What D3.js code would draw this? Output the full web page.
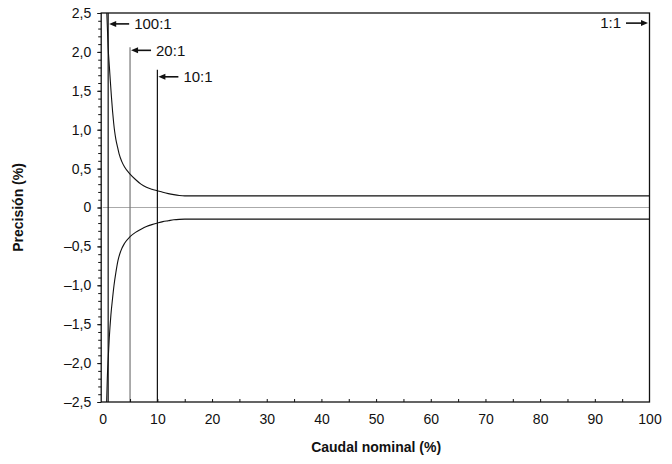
<!DOCTYPE html>
<html><head><meta charset="utf-8">
<script src="https://cdn.jsdelivr.net/npm/d3@7"></script>
<style>body{margin:0;background:#fff}svg{display:block}text{font-family:"Liberation Sans",Arial,sans-serif;fill:#111}</style>
</head><body><div id="c"></div>
<script>
const upperX = [0.75,1,1.2,1.4,1.6,1.8,2,2.2,2.4,2.7,3,3.5,4,5,6,7,8,9,10,11,12,13,14,15,100];
const upperY = [2.5,2.05,1.83,1.62,1.42,1.24,1.09,0.97,0.88,0.78,0.69,0.59,0.52,0.43,0.36,0.30,0.26,0.235,0.215,0.195,0.178,0.165,0.155,0.15,0.15];
const lowerX = [0.72,0.84,1,1.2,1.5,1.8,2.07,2.4,2.8,3.3,4,5,6,7,8,9,10,11,12,13,14,15,100];
const lowerY = [-2.5,-2.2,-1.95,-1.68,-1.38,-1.17,-1.0,-0.84,-0.68,-0.56,-0.46,-0.375,-0.32,-0.28,-0.245,-0.22,-0.2,-0.182,-0.17,-0.158,-0.152,-0.15,-0.15];
const ratioLabels = ["100:1","20:1","10:1"];
const ratioX = [1,5,10];
const ratioTop = [2.5,2.06,1.77];
const ratioArrowY = [2.36,2.02,1.68];
const oneLabel = "1:1";
const oneArrowY = 2.37;
const xTicks = [0,10,20,30,40,50,60,70,80,90,100];
const yTicks = [-2.5,-2,-1.5,-1,-0.5,0,0.5,1,1.5,2,2.5];
const xTitle = "Caudal nominal (%)";
const yTitle = "Precisión (%)";

const W=672,H=464;
const x = d3.scaleLinear().domain([0,100]).range([102.7,649.5]);
const y = d3.scaleLinear().domain([-2.5,2.5]).range([402,13]);
const svg = d3.select("#c").append("svg").attr("width",W).attr("height",H);
const fmt = v => v===0 ? "0" : (v<0?"–":"") + Math.abs(v).toFixed(1).replace(".",",");

// zero line
svg.append("line").attr("x1",x(0)).attr("x2",x(100)).attr("y1",y(0)).attr("y2",y(0)).attr("stroke","#aaa").attr("stroke-width",1);

// vertical ratio lines
const ratioColors = ["#111","#777","#111"];
ratioX.forEach((rx,i)=>{
  svg.append("line").attr("x1",x(rx)).attr("x2",x(rx)).attr("y1",y(ratioTop[i])).attr("y2",y(-2.5)).attr("stroke",ratioColors[i]).attr("stroke-width",1.2);
});

// curves
const line = d3.line().x(d=>x(d[0])).y(d=>y(d[1])).curve(d3.curveMonotoneX);
svg.append("path").attr("d",line(upperX.map((v,i)=>[v,upperY[i]]))).attr("fill","none").attr("stroke","#111").attr("stroke-width",1.1);
svg.append("path").attr("d",line(lowerX.map((v,i)=>[v,lowerY[i]]))).attr("fill","none").attr("stroke","#111").attr("stroke-width",1.1);

// frame
svg.append("rect").attr("x",x(0)-1.5).attr("y",y(2.5)).attr("width",x(100)-x(0)+1.5).attr("height",y(-2.5)-y(2.5)).attr("fill","none").attr("stroke","#111").attr("stroke-width",1.3);

// axes
const yAxis = d3.axisLeft(y).tickValues(yTicks).tickFormat(fmt).tickSize(4).tickPadding(6);
const ya = svg.append("g").attr("transform",`translate(${x(0)-1.5},0)`).call(yAxis);
ya.select(".domain").remove();
ya.selectAll("text").style("font-size","14px").attr("fill","#111");
const yMinor = d3.axisLeft(y).tickValues(d3.range(-25,26).map(v=>v/10)).tickFormat("").tickSize(3);
const ym = svg.append("g").attr("transform",`translate(${x(0)-1.5},0)`).call(yMinor);
ym.select(".domain").remove();

const xAxis = d3.axisBottom(x).tickValues(xTicks).tickFormat(d=>d).tickSize(0).tickPadding(12);
const xa = svg.append("g").attr("transform",`translate(0,${y(-2.5)})`).call(xAxis);
xa.select(".domain").remove();
xa.selectAll("text").style("font-size","14px").attr("fill","#111");
const xIn = d3.axisTop(x).tickValues(d3.range(5,100,5)).tickFormat("").tickSizeOuter(0).tickSize(3);
const xi = svg.append("g").attr("transform",`translate(0,${y(-2.5)})`).call(xIn);
xi.select(".domain").remove();
svg.selectAll(".tick line").attr("stroke","#111");

// arrows
function arrow(x1,x2,yy){
  const dir = Math.sign(x2-x1);
  svg.append("line").attr("x1",x1).attr("x2",x2-dir*5).attr("y1",yy).attr("y2",yy).attr("stroke","#111").attr("stroke-width",1.6);
  svg.append("path").attr("d",`M${x2},${yy}L${x2-dir*7},${yy-3}L${x2-dir*7},${yy+3}Z`).attr("fill","#111");
}
ratioX.forEach((rx,i)=>{
  const xl = x(rx)+1, yy = y(ratioArrowY[i]);
  arrow(xl+20,xl,yy);
  svg.append("text").attr("x",xl+25).attr("y",yy).attr("dy","0.35em").style("font-size","15px").text(ratioLabels[i]);
});
{
  const yy = y(oneArrowY), xr = x(100)-1.5;
  arrow(xr-22,xr,yy);
  svg.append("text").attr("x",xr-27).attr("y",yy).attr("dy","0.35em").attr("text-anchor","end").style("font-size","15px").text(oneLabel);
}

// titles
svg.append("text").attr("x",(x(0)+x(100))/2).attr("y",452).attr("text-anchor","middle").style("font-size","14px").style("font-weight","bold").text(xTitle);
svg.append("text").attr("transform",`translate(23,${y(0)}) rotate(-90)`).attr("text-anchor","middle").style("font-size","14px").style("font-weight","bold").text(yTitle);
</script></body></html>
